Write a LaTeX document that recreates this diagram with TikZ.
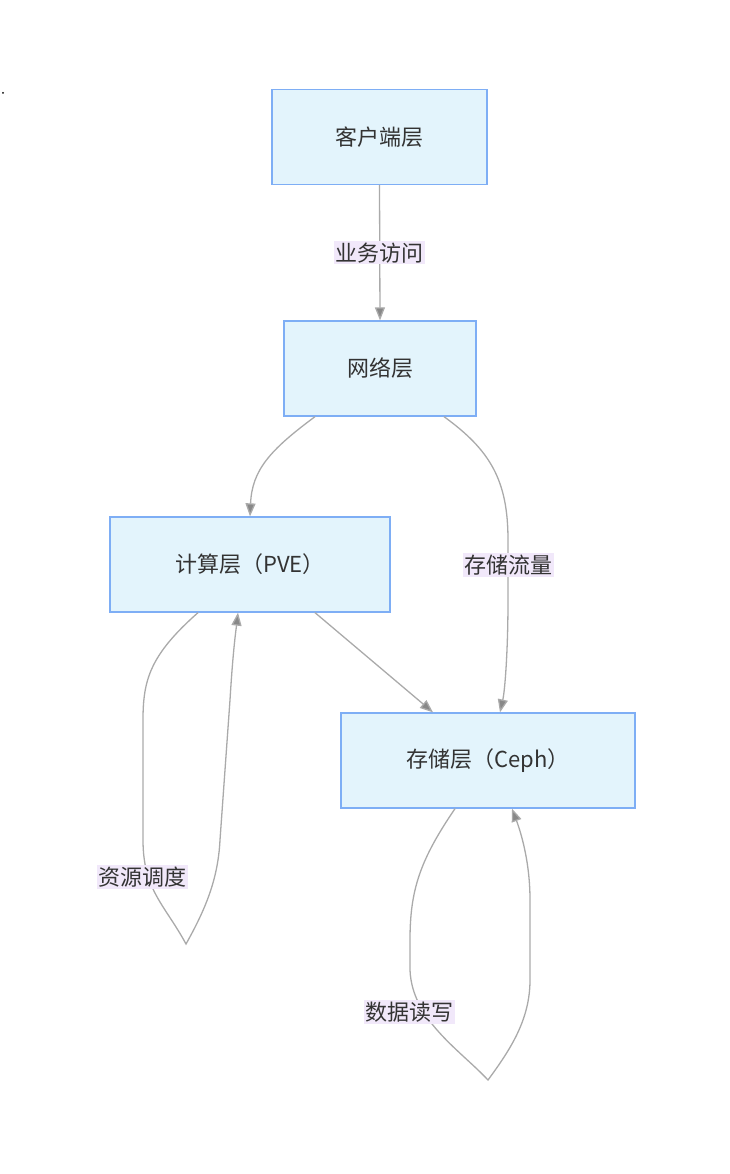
\documentclass[tikz,border=0pt]{standalone}
\usepackage{fontspec}
\setmainfont{Noto Sans CJK SC}
\usetikzlibrary{arrows.meta}
\definecolor{boxfill}{HTML}{E3F4FC}
\definecolor{boxline}{HTML}{7EAEF5}
\definecolor{edgegray}{HTML}{AAAAAA}
\definecolor{lblfill}{HTML}{F1E8FA}
\tikzset{
  layer/.style={draw=boxline,fill=boxfill,line width=1.3pt,minimum height=95pt,
    font=\fontsize{22}{26}\selectfont,text=black!80},
  flow/.style={draw=edgegray,line width=1.3pt,-{Triangle[length=13pt,width=10pt,fill=edgegray!80!black]}},
  lbl/.style={fill=lblfill,inner sep=1.5pt,font=\fontsize{22}{26}\selectfont,text=black!80}
}
\begin{document}
\begin{tikzpicture}[x=1pt,y=-1pt]
    \useasboundingbox (0,0) rectangle (730,1174);
    \fill[black] (3,93) circle (1pt);

    \node[layer,minimum width=215pt] (cli) at (379.5,137) {客户端层};
    \node[layer,minimum width=192pt] (net) at (380,368.5) {网络层};
    \node[layer,minimum width=280pt] (cmp) at (250,564.5) {计算层（PVE）};
    \node[layer,minimum width=294pt] (sto) at (488,760.5) {存储层（Ceph）};

    \draw[flow] (cli.south) -- (net.north) node[lbl,midway] {业务访问};
    \draw[flow] ([xshift=-65pt]net.south) .. controls (270,450) and (252,470) .. ([xshift=0pt]cmp.north);
    \draw[flow] ([xshift=64pt]net.south) .. controls (490,450) and (508,480) .. (508,540) -- (508,600)
        .. controls (508,650) and (505,690) .. ([xshift=12pt]sto.north);
    \node[lbl] (lbl1) at (508,565) {存储流量};
    \draw[flow] ([xshift=65pt]cmp.south) -- ([xshift=-55pt]sto.north);

    % self loops
    \draw[flow] ([xshift=-52pt]cmp.south) .. controls (150,655) and (143,680) .. (143,720) -- (143,840)
        .. controls (143,890) and (165,905) .. (186,944) .. controls (205,910) and (218,880) .. (220,840)
        -- (230,700) .. controls (233,650) and (236,630) .. ([xshift=-12pt]cmp.south);
    \node[lbl] (lbl2) at (142,877) {资源调度};
    \draw[flow] ([xshift=-33pt]sto.south) .. controls (420,860) and (410,890) .. (410,940) -- (410,970)
        .. controls (412,1020) and (460,1050) .. (488,1080) .. controls (510,1050) and (530,1020) .. (530,980)
        -- (530,900) .. controls (530,860) and (520,830) .. ([xshift=24pt]sto.south);
    \node[lbl] (lbl3) at (409,1012) {数据读写};
\end{tikzpicture}
\end{document}
